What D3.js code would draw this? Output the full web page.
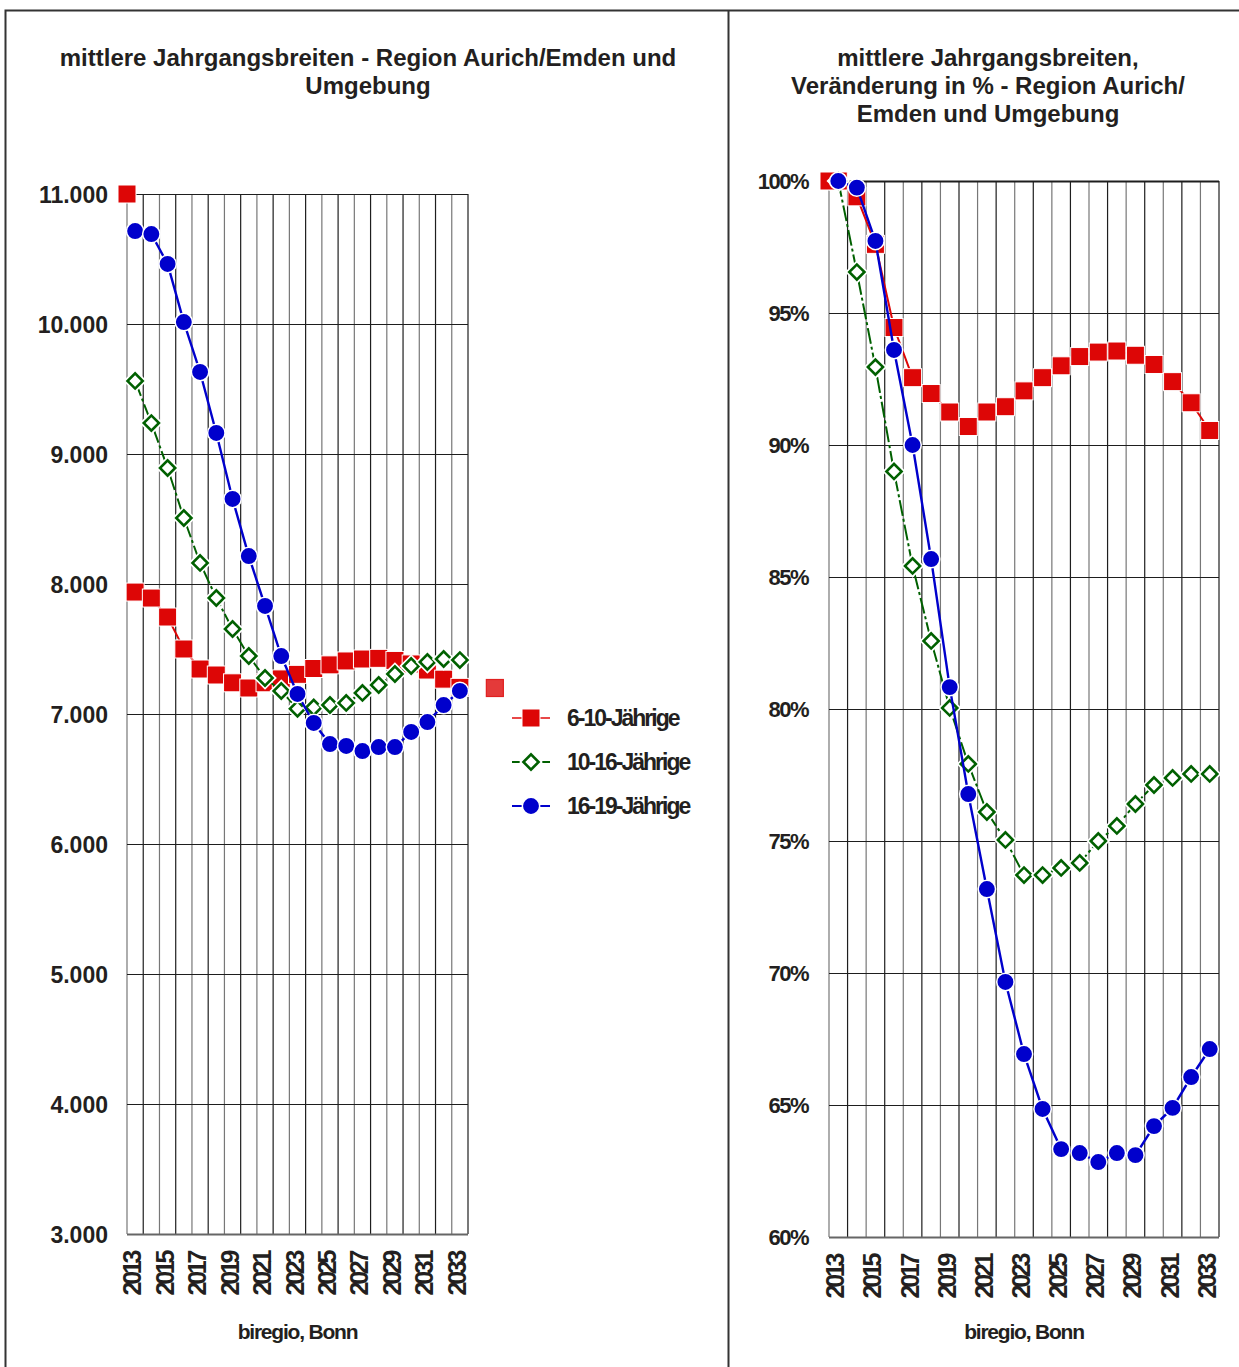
<!DOCTYPE html>
<html>
<head>
<meta charset="utf-8">
<script src="https://cdn.jsdelivr.net/npm/d3@7"></script>
<style>
body { margin: 0; background: #fff; }
text { font-family: "Liberation Sans", Arial, sans-serif; fill: #231f20; font-weight: bold; }
.title { font-size: 24px; }
.ylab { font-size: 23px; }
.ylab-pct { font-size: 22px; letter-spacing: -1.5px; }
.xlab { font-size: 25px; letter-spacing: -3.3px; }
.source { font-size: 21px; letter-spacing: -1.2px; }
.legend { font-size: 23px; letter-spacing: -2px; }
</style>
</head>
<body>
<svg id="chart" width="1239" height="1367"></svg>
<script>
// categories
var years = [2013, 2014, 2015, 2016, 2017, 2018, 2019, 2020, 2021, 2022, 2023,
             2024, 2025, 2026, 2027, 2028, 2029, 2030, 2031, 2032, 2033];
var labelYears = [2013, 2015, 2017, 2019, 2021, 2023, 2025, 2027, 2029, 2031, 2033];
var seriesNames = ["6-10-Jährige", "10-16-Jährige", "16-19-Jährige"];

// left chart: mean cohort size (absolute)
var abs610 = [7938, 7892, 7746, 7500, 7346, 7300, 7240, 7200, 7240, 7270, 7305,
              7350, 7378, 7408, 7423, 7428, 7412, 7385, 7338, 7268, 7205];
var abs1016 = [9562, 9238, 8892, 8508, 8162, 7892, 7654, 7446, 7277, 7177, 7040,
               7050, 7069, 7085, 7162, 7223, 7308, 7369, 7400, 7423, 7415];
var abs1619 = [10715, 10692, 10462, 10015, 9631, 9162, 8654, 8215, 7831, 7446, 7154,
               6931, 6769, 6754, 6715, 6746, 6746, 6862, 6938, 7069, 7177];
var absTicks = [3000, 4000, 5000, 6000, 7000, 8000, 9000, 10000, 11000];

// right chart: change in % (2013 = 100%)
var pct610 = [100, 99.4, 97.6, 94.45, 92.55, 91.95, 91.25, 90.7, 91.25, 91.45, 92.05,
              92.55, 93.0, 93.35, 93.52, 93.56, 93.4, 93.05, 92.4, 91.6, 90.55];
var pct1016 = [100, 96.55, 92.95, 89.0, 85.42, 82.58, 80.04, 77.92, 76.1, 75.04, 73.71,
               73.71, 73.98, 74.17, 75.0, 75.57, 76.4, 77.12, 77.39, 77.54, 77.54];
var pct1619 = [100, 99.75, 97.73, 93.6, 90.0, 85.68, 80.83, 76.78, 73.18, 69.66, 66.93,
               64.85, 63.33, 63.18, 62.84, 63.18, 63.1, 64.2, 64.89, 66.06, 67.12];
var pctTicks = [60, 65, 70, 75, 80, 85, 90, 95, 100];

// stray red markers that the original chart shows outside the categories
var strayLeftAxis = [11000];
var strayLeftOutside = [7200];
var strayRightAxis = [100];

var deFormat = d3.formatLocale({decimal: ",", thousands: ".", grouping: [3], currency: ["", " €"]}).format(",");

var styles = [
    {kind: "square", color: "#dd0606", legendLine: "#e84848", dash: null, width: 2},
    {kind: "diamond", color: "#006000", legendLine: "#006000", dash: "16,3,3,3", width: 2},
    {kind: "circle", color: "#0000cc", legendLine: "#0000cc", dash: null, width: 2.4}
];

var svg = d3.select("#chart");

// outer frame and divider
svg.append("path")
    .attr("d", "M5.5,1367V10.5H1239")
    .attr("fill", "none").attr("stroke", "#333").attr("stroke-width", 2);
svg.append("line")
    .attr("x1", 728.5).attr("x2", 728.5).attr("y1", 10.5).attr("y2", 1367)
    .attr("stroke", "#333").attr("stroke-width", 2);

function addMarker(sel, kind, color) {
    if (kind === "square") {
        sel.append("rect")
            .attr("x", -9).attr("y", -9).attr("width", 18).attr("height", 18)
            .attr("fill", color).attr("stroke", "#fff").attr("stroke-width", 1);
    } else if (kind === "diamond") {
        var d = d3.symbol(d3.symbolSquare, 115)();
        sel.append("path").attr("d", d).attr("transform", "rotate(45)")
            .attr("fill", "#fff").attr("stroke", "#fff").attr("stroke-width", 6);
        sel.append("path").attr("d", d).attr("transform", "rotate(45)")
            .attr("fill", "#fff").attr("stroke", color).attr("stroke-width", 2.6);
    } else {
        sel.append("circle").attr("r", 8.7)
            .attr("fill", color).attr("stroke", "#fff").attr("stroke-width", 1.5);
    }
}

function drawPanel(p) {
    var g = svg.append("g");
    var x = d3.scaleBand().domain(years).range([p.left, p.right]);
    var y = d3.scaleLinear().domain(p.domain).range([p.bottom, p.top]);
    var bw = x.bandwidth();

    // title
    g.append("text")
        .attr("class", "title")
        .attr("text-anchor", "middle")
        .attr("y", p.titleY)
        .selectAll("tspan")
        .data(p.title)
        .enter()
        .append("tspan")
        .attr("x", p.titleX)
        .attr("dy", function (d, i) { return i ? 28 : 0; })
        .text(function (d) { return d; });

    // vertical grid at the category borders
    var borders = years.map(function (d) { return x(d); }).concat([p.right]);
    g.append("g").selectAll("line")
        .data(borders)
        .enter()
        .append("line")
        .attr("x1", function (d) { return d; })
        .attr("x2", function (d) { return d; })
        .attr("y1", p.top).attr("y2", p.bottom)
        .attr("stroke", function (d, i) { return i % 2 ? "#1e1e1e" : "#777"; })
        .attr("stroke-width", 1.2);

    // horizontal grid + value labels
    var yAxis = d3.axisLeft(y)
        .tickValues(p.ticks)
        .tickFormat(p.format)
        .tickSize(-(p.right - p.left))
        .tickPadding(p.pad);
    var ya = g.append("g")
        .attr("transform", "translate(" + p.left + ",0)")
        .attr("font-family", null).attr("font-size", null)
        .call(yAxis);
    ya.select(".domain").remove();
    ya.selectAll(".tick line")
        .attr("stroke", function (d) { return d === p.domain[0] ? "#666" : "#1e1e1e"; })
        .attr("stroke-width", function (d) {
            if (d === p.domain[0]) return 2;
            if (d === p.domain[1]) return p.topWidth;
            return 1.2;
        });
    ya.selectAll(".tick text").attr("class", p.labelClass).attr("fill", null).attr("dy", "0.36em");

    // year labels, rotated
    var xa = g.append("g")
        .attr("transform", "translate(0," + p.bottom + ")")
        .attr("font-family", null).attr("font-size", null)
        .call(d3.axisBottom(x).tickValues(labelYears).tickSize(0));
    xa.select(".domain").remove();
    xa.selectAll(".tick text")
        .attr("class", "xlab")
        .attr("fill", null)
        .attr("transform", "rotate(-90)")
        .attr("text-anchor", "end")
        .attr("x", -19).attr("y", -3).attr("dy", "0.36em");

    g.append("text")
        .attr("class", "source")
        .attr("text-anchor", "middle")
        .attr("x", (p.left + p.right) / 2)
        .attr("y", 1339)
        .text("biregio, Bonn");

    var cx = function (d, j) { return x(years[j]) + bw / 2; };

    p.series.forEach(function (values, i) {
        var st = styles[i];
        var line = d3.line().x(cx).y(function (d) { return y(d); });

        g.append("path")
            .datum(values)
            .attr("d", line)
            .attr("fill", "none")
            .attr("stroke", st.color)
            .attr("stroke-width", st.width)
            .attr("stroke-dasharray", st.dash);

        var m = g.append("g").selectAll("g")
            .data(values)
            .enter()
            .append("g")
            .attr("transform", function (d, j) {
                return "translate(" + cx(d, j) + "," + y(d) + ")";
            });
        addMarker(m, st.kind, st.color);

        // red strays sit right after the red series
        if (i === 0) {
            var s = g.append("g").selectAll("g")
                .data(p.strayAxis)
                .enter()
                .append("g")
                .attr("transform", function (d) { return "translate(" + p.left + "," + y(d) + ")"; });
            addMarker(s, "square", st.color);
            if (p.strayOutside) {
                var last = x(years[years.length - 1]) + bw / 2;
                g.selectAll(null)
                    .data(p.strayOutside)
                    .enter()
                    .append("rect")
                    .attr("x", last + 2 * bw - 6)
                    .attr("y", function (d) { return y(d) - 8.5; })
                    .attr("width", 17).attr("height", 17)
                    .attr("fill", "#e43a3a")
                    .attr("stroke", "#e02020")
                    .attr("stroke-width", 1.2);
            }
        }
    });

    return g;
}

drawPanel({
    left: 127, right: 468, top: 194, bottom: 1234,
    domain: [3000, 11000], ticks: absTicks, format: deFormat,
    pad: 19, labelClass: "ylab", topWidth: 1.2,
    title: ["mittlere Jahrgangsbreiten - Region Aurich/Emden und", "Umgebung"],
    titleX: 368, titleY: 66,
    series: [abs610, abs1016, abs1619],
    strayAxis: strayLeftAxis, strayOutside: strayLeftOutside
});

drawPanel({
    left: 829, right: 1219, top: 181, bottom: 1237,
    domain: [60, 100], ticks: pctTicks, format: function (d) { return d + "%"; },
    pad: 21, labelClass: "ylab-pct", topWidth: 2.2,
    title: ["mittlere Jahrgangsbreiten,", "Veränderung in % - Region Aurich/", "Emden und Umgebung"],
    titleX: 988, titleY: 66,
    series: [pct610, pct1016, pct1619],
    strayAxis: strayRightAxis, strayOutside: null
});

// legend (left chart)
var legend = svg.append("g").selectAll("g")
    .data(seriesNames)
    .enter()
    .append("g")
    .attr("transform", function (d, i) { return "translate(531," + (718 + i * 44) + ")"; });
legend.append("line")
    .attr("x1", -19).attr("x2", 19)
    .attr("stroke", function (d, i) { return styles[i].legendLine; })
    .attr("stroke-width", 2.2);
legend.each(function (d, i) {
    addMarker(d3.select(this).append("g"), styles[i].kind, styles[i].color);
});
legend.append("text")
    .attr("class", "legend")
    .attr("x", 36)
    .attr("dy", "0.36em")
    .text(function (d) { return d; });
</script>
</body>
</html>
